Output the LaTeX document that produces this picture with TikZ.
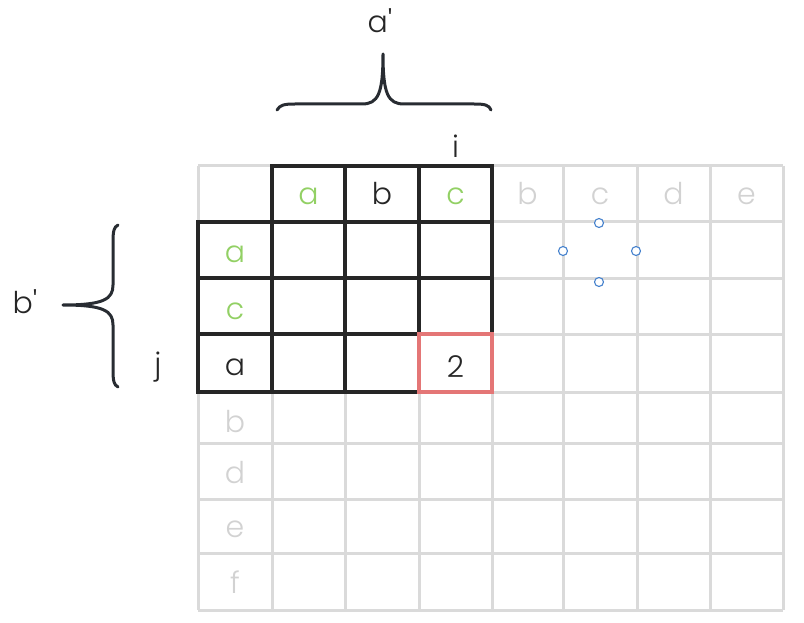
\documentclass[tikz,border=0pt]{standalone}
\usepackage{fontspec}
\setmainfont{Poppins}[Ligatures=TeXOff, UprightFont=* Light]
\definecolor{gridgray}{RGB}{218,218,218}
\definecolor{txtgray}{RGB}{210,210,210}
\definecolor{ink}{RGB}{38,38,38}
\definecolor{leaf}{RGB}{146,208,100}
\definecolor{redc}{RGB}{228,118,118}
\definecolor{bluec}{RGB}{70,130,205}
\definecolor{bracec}{RGB}{40,44,50}
\begin{document}
\begin{tikzpicture}[x=1pt,y=-1pt,
  lbl/.style={font=\fontsize{30}{33}\selectfont, anchor=base, inner sep=0pt, text=ink},
  gtx/.style={lbl, text=txtgray},
  gtxt/.style={lbl, text=leaf},
  gline/.style={draw=gridgray, line width=3pt},
  blk/.style={draw=ink, line width=3.2pt, line join=miter},
  redbox/.style={draw=redc, line width=3.4pt, line join=miter},
  bracestyle/.style={draw=bracec, line width=3pt, line cap=round, line join=round},
  handle/.style={draw=bluec, fill=white, line width=1.1pt}]
\useasboundingbox (0,0) rectangle (804,623);

% light grid
\foreach \x in {198,272,345,419,492,563,637,710,783}
  \draw[gline] (\x,166) -- (\x,610);
\foreach \y in {166,222,278,334,392,443,499,553,610}
  \draw[gline] (198,\y) -- (783,\y);

% dark cells
\foreach \xa/\xb in {272/345,345/419,419/492}
  \draw[blk] (\xa,166) rectangle (\xb,222);
\foreach \ya/\yb in {222/278,278/334,334/392}
  \foreach \xa/\xb in {198/272,272/345,345/419,419/492}
    \draw[blk] (\xa,\ya) rectangle (\xb,\yb);
\draw[redbox] (419,334) rectangle (492,392);

% header row
\node[gtxt] (h1) at (308.5,205) {a};
\node[lbl]  (h2) at (382,205) {b};
\node[gtxt] (h3) at (455.5,205) {c};
\node[gtx]  (h4) at (527.5,205) {b};
\node[gtx]  (h5) at (600,205) {c};
\node[gtx]  (h6) at (673.5,205) {d};
\node[gtx]  (h7) at (746.5,205) {e};

% first column
\node[gtxt] (v1) at (235,262) {a};
\node[gtxt] (v2) at (235,319) {c};
\node[lbl]  (v3) at (235,375) {a};
\node[gtx]  (v4) at (235,432) {b};
\node[gtx]  (v5) at (235,483) {d};
\node[gtx]  (v6) at (235,537) {e};
\node[gtx]  (v7) at (235,593) {f};

\node[lbl] (two) at (455.5,377) {2};

% outer labels
\node[lbl] (ap) at (380,33) {a\textquotesingle};
\node[lbl] (ii) at (455.5,158) {i};
\node[lbl] (jj) at (158,374) {j};
\node[lbl] (bp) at (25,313) {b\textquotesingle};

% top brace
\draw[bracestyle] (277,110) .. controls (280,105) and (284,104) .. (295,104)
  -- (362,104) .. controls (378,104) and (383,94) .. (383,54)
  .. controls (383,94) and (388,104) .. (404,104)
  -- (474,104) .. controls (485,104) and (489,105) .. (491,110);

% left brace
\draw[bracestyle] (118,225) .. controls (114,227) and (113,231) .. (113,242)
  -- (113,285) .. controls (113,299) and (104,305) .. (63,305)
  .. controls (104,305) and (113,311) .. (113,325)
  -- (113,370) .. controls (113,381) and (114,385) .. (118,387);

% selection handles
\draw[handle] (599,223) circle (4.5);
\draw[handle] (563,251) circle (4.5);
\draw[handle] (636,251) circle (4.5);
\draw[handle] (599,282) circle (4.5);
\end{tikzpicture}
\end{document}
